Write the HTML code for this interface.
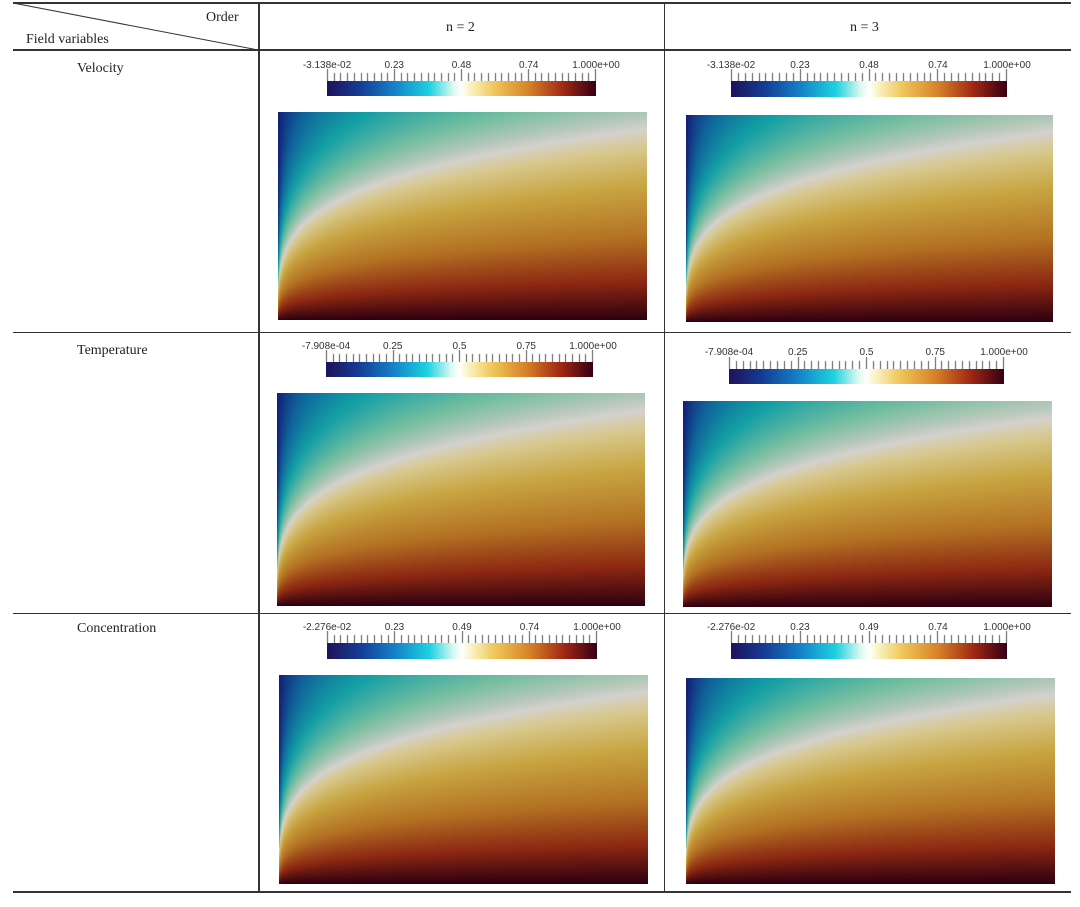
<!DOCTYPE html>
<html><head><meta charset="utf-8"><style>
html,body{margin:0;padding:0;background:#fff;width:1080px;height:907px;overflow:hidden;position:relative;font-family:"Liberation Serif",serif;color:#222}
.t{position:absolute;font-size:14px;white-space:nowrap}
.h{position:absolute;background:#333}
.lab{position:absolute;font-family:"Liberation Sans",sans-serif;font-size:10px;color:#333;transform:translateX(-50%);white-space:nowrap}
canvas{position:absolute}
</style></head><body>
<div class="h" style="left:13px;top:2px;width:1058px;height:2px"></div>
<div class="h" style="left:13px;top:49px;width:1058px;height:2px"></div>
<div class="h" style="left:13px;top:332px;width:1058px;height:1px"></div>
<div class="h" style="left:13px;top:613px;width:1058px;height:1px"></div>
<div class="h" style="left:13px;top:891px;width:1058px;height:2px"></div>
<div class="h" style="left:258px;top:2px;width:2px;height:891px"></div>
<div class="h" style="left:664px;top:2px;width:1px;height:891px"></div>
<svg style="position:absolute;left:0;top:0" width="270" height="60"><line x1="13" y1="3" x2="258" y2="50" stroke="#333" stroke-width="1"/></svg>
<div class="t" style="left:206px;top:10px">Order</div>
<div class="t" style="left:26px;top:32px">Field variables</div>
<div class="t" style="left:446px;top:20px">n = 2</div>
<div class="t" style="left:850px;top:20px">n = 3</div>
<div class="t" style="left:77px;top:61px">Velocity</div>
<div class="t" style="left:77px;top:343px">Temperature</div>
<div class="t" style="left:77px;top:621px">Concentration</div>
<script>
var blocks=[
{cb:[327,81,269,15],pl:[278,112,369,208],labs:["-3.138e-02","0.23","0.48","0.74","1.000e+00"],ly:60},
{cb:[731,81,276,16],pl:[686,115,367,207],labs:["-3.138e-02","0.23","0.48","0.74","1.000e+00"],ly:60},
{cb:[326,362,267,15],pl:[277,393,368,213],labs:["-7.908e-04","0.25","0.5","0.75","1.000e+00"],ly:341},
{cb:[729,369,275,15],pl:[683,401,369,206],labs:["-7.908e-04","0.25","0.5","0.75","1.000e+00"],ly:347},
{cb:[327,643,270,16],pl:[279,675,369,209],labs:["-2.276e-02","0.23","0.49","0.74","1.000e+00"],ly:622},
{cb:[731,643,276,16],pl:[686,678,369,206],labs:["-2.276e-02","0.23","0.49","0.74","1.000e+00"],ly:622}];
var cm=[[0,[30,20,90]],[0.12,[20,60,150]],[0.25,[20,130,200]],[0.38,[30,210,225]],[0.47,[220,250,240]],[0.5,[255,255,255]],[0.53,[250,245,200]],[0.62,[240,200,90]],[0.75,[215,130,40]],[0.88,[160,40,20]],[1,[55,0,20]]];
var pm=[[0,[20,30,120]],[0.12,[15,100,155]],[0.25,[20,160,165]],[0.38,[115,190,160]],[0.46,[180,200,185]],[0.5,[212,210,205]],[0.55,[215,200,140]],[0.65,[200,165,65]],[0.78,[180,115,35]],[0.9,[140,40,18]],[1,[45,0,15]]];
function col(m,v){if(v<=0)return m[0][1];if(v>=1)return m[m.length-1][1];for(var i=1;i<m.length;i++){if(v<=m[i][0]){var a=m[i-1],b=m[i],t=(v-a[0])/(b[0]-a[0]);return [0,1,2].map(function(k){return a[1][k]+(b[1][k]-a[1][k])*t})}}}
function cv(x,y,w,h){var c=document.createElement('canvas');c.width=w;c.height=h;c.style.left=x+'px';c.style.top=y+'px';document.body.appendChild(c);return c}
blocks.forEach(function(b){
 var c=b.cb,cx=cv(c[0],c[1],c[2],c[3]).getContext('2d');
 for(var i=0;i<c[2];i++){var k=col(cm,i/(c[2]-1));cx.fillStyle='rgb('+k.map(Math.round)+')';cx.fillRect(i,0,1,c[3])}
 var tk=cv(c[0]-2,c[1]-12,c[2]+4,12).getContext('2d');tk.fillStyle='#555';
 for(var j=0;j<=40;j++){var xx=2+Math.round(j*(c[2]-1)/40);var big=(j%10==0);tk.fillRect(xx,big?0:4,1,big?12:8)}
 b.labs.forEach(function(s,i){var d=document.createElement('div');d.className='lab';d.textContent=s;d.style.left=(c[0]+i*c[2]/4)+'px';d.style.top=b.ly+'px';document.body.appendChild(d)});
 var p=b.pl,pc=cv(p[0],p[1],p[2],p[3]).getContext('2d'),img=pc.createImageData(p[2],p[3]);
 for(var y=0;y<p[3];y++)for(var x=0;x<p[2];x++){var xn=(x+0.5)/p[2],d=1-(y+0.5)/p[3];var dh=0.92*Math.pow(xn,0.26);var v;
  if(d<dh)v=1-0.5*d/dh;else v=0.5*Math.exp(-(d-dh)/(0.8*dh));
  var k=col(pm,v),o=(y*p[2]+x)*4;img.data[o]=k[0];img.data[o+1]=k[1];img.data[o+2]=k[2];img.data[o+3]=255}
 pc.putImageData(img,0,0);
});
</script>
</body></html>
